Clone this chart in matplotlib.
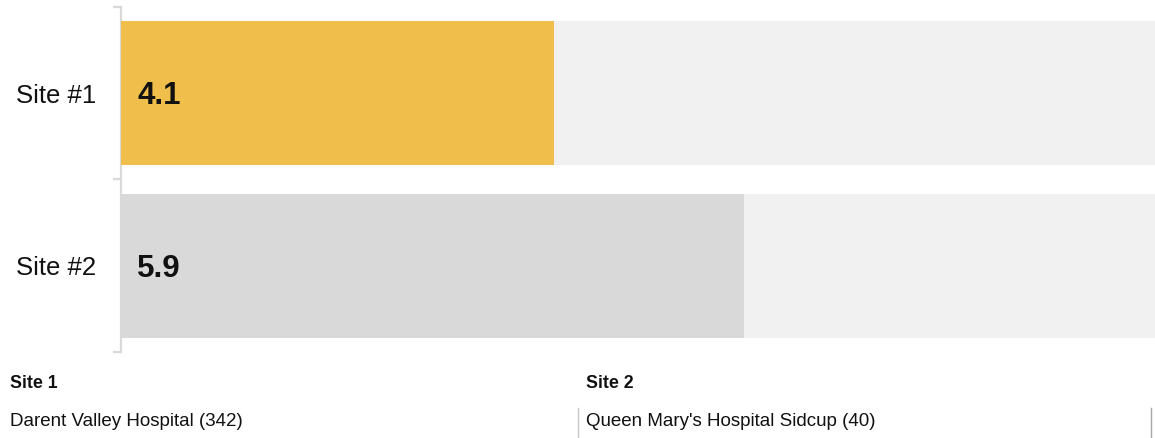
import matplotlib.pyplot as plt
import numpy as np

plt.rcParams['font.family'] = ['Liberation Sans', 'DejaVu Sans']

sites = ["Site #1", "Site #2"]
scores = [4.1, 5.9]
scale_max = 9.8
site_titles = ["Site 1", "Site 2"]
hospitals = ["Darent Valley Hospital (342)", "Queen Mary's Hospital Sidcup (40)"]

YELLOW = "#f0be4a"
GREY_BAR = "#d9d9d9"
TRACK = "#f1f1f1"
AXIS = "#d9d9d9"
TEXT = "#111111"

W, H = 1155, 438
fig = plt.figure(figsize=(W / 100, H / 100), dpi=100)
fig.patch.set_facecolor("white")

# axes spans the bar area; y runs from the top tick (7px) to the bottom tick (352px)
ax = fig.add_axes([121 / W, (H - 352) / H, (W - 121) / W, 345 / H])
ax.set_xlim(0, scale_max)
ax.set_ylim(1.5, -0.5)

y = np.arange(len(sites))
bar_h = 0.835
ax.barh(y, [scale_max] * len(sites), height=bar_h, color=TRACK, zorder=1)
ax.barh(y, scores, height=bar_h, color=[YELLOW, GREY_BAR], zorder=2)

for yi, val in zip(y, scores):
    ax.annotate(f"{val:.1f}", xy=(0, yi), xytext=(16, -3), textcoords="offset pixels",
                ha="left", va="center", fontsize=22.5, fontweight="bold", color=TEXT, zorder=3)

for side in ["top", "right", "bottom"]:
    ax.spines[side].set_visible(False)
ax.spines["left"].set_color(AXIS)
ax.spines["left"].set_linewidth(1.6)
ax.spines["left"].set_zorder(0)

ax.set_xticks([])
ax.set_yticks(y)
ax.set_yticklabels(sites, fontsize=18.5, color=TEXT)
ax.tick_params(axis="y", which="major", length=0, pad=18)
ax.set_yticks([-0.5, 0.5, 1.5], minor=True)
ax.tick_params(axis="y", which="minor", length=5.5, width=1.6, color=AXIS)

# site legend underneath
for x0, title, hosp in zip([10, 586], site_titles, hospitals):
    fig.text(x0 / W, 1 - 383 / H, title, fontsize=12.8, fontweight="bold", color=TEXT,
             ha="left", va="center")
    fig.text(x0 / W, 1 - 421 / H, hosp, fontsize=13.5, color=TEXT, ha="left", va="center")

for xs, c in zip([578, 1151], ["#c8c8c8", "#a8a8a8"]):
    fig.add_artist(plt.Line2D([xs / W, xs / W], [1 - 408 / H, 1 - 437 / H],
                              color=c, linewidth=1.0, transform=fig.transFigure))

fig.savefig("out.png", dpi=100, facecolor="white")
